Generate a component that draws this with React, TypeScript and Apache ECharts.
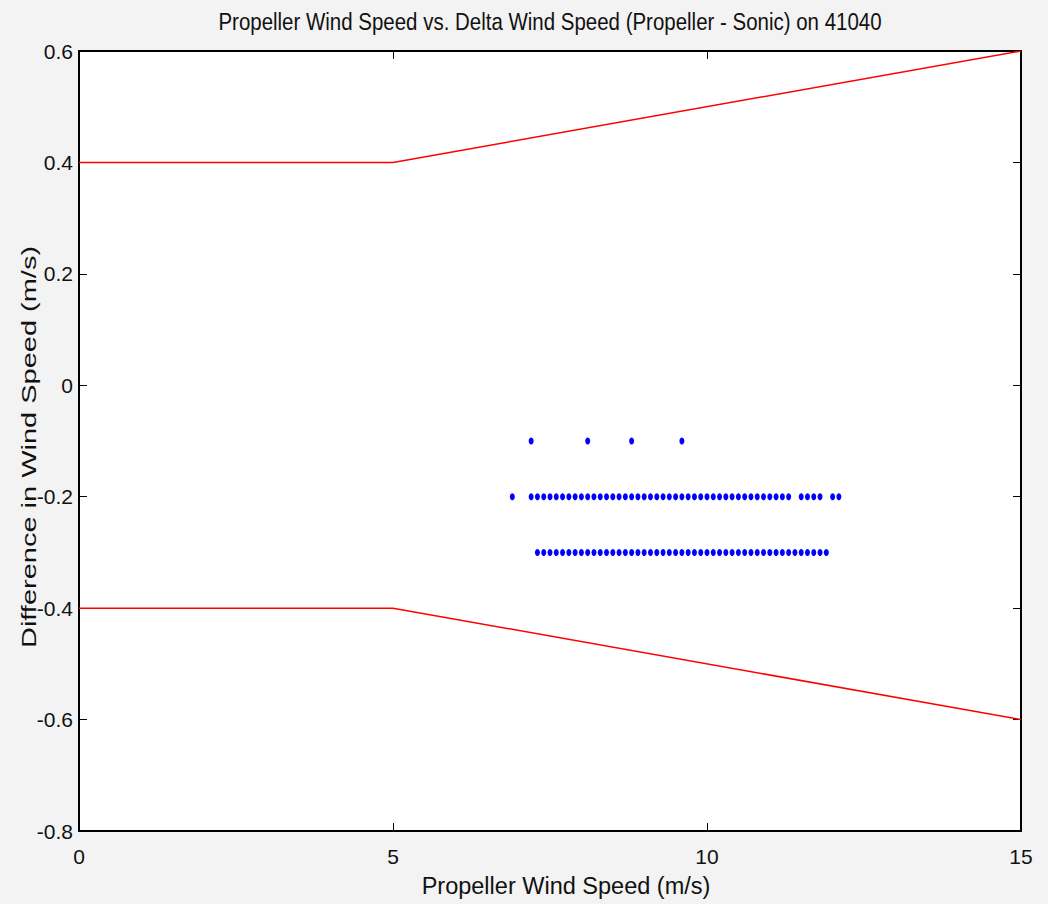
import React, { useEffect, useRef } from "react";
import * as echarts from "echarts";

const TITLE = "Propeller Wind Speed vs. Delta Wind Speed (Propeller - Sonic) on 41040";
const X_LABEL = "Propeller Wind Speed (m/s)";
const Y_LABEL = "Difference in Wind Speed (m/s)";

const upperLimit: [number, number][] = [
  [0, 0.4],
  [5, 0.4],
  [15, 0.6],
];
const lowerLimit: [number, number][] = [
  [0, -0.4],
  [5, -0.4],
  [15, -0.6],
];

const speedsDeltaM01 = [7.2, 8.1, 8.8, 9.6];
const speedsDeltaM02 = [
  6.9, 7.2, 7.3, 7.4, 7.5, 7.6, 7.7, 7.8, 7.9, 8.0, 8.1, 8.2, 8.3, 8.4, 8.5, 8.6,
  8.7, 8.8, 8.9, 9.0, 9.1, 9.2, 9.3, 9.4, 9.5, 9.6, 9.7, 9.8, 9.9, 10.0, 10.1,
  10.2, 10.3, 10.4, 10.5, 10.6, 10.7, 10.8, 10.9, 11.0, 11.1, 11.2, 11.3, 11.5,
  11.6, 11.7, 11.8, 12.0, 12.1,
];
const speedsDeltaM03 = [
  7.3, 7.4, 7.5, 7.6, 7.7, 7.8, 7.9, 8.0, 8.1, 8.2, 8.3, 8.4, 8.5, 8.6, 8.7, 8.8,
  8.9, 9.0, 9.1, 9.2, 9.3, 9.4, 9.5, 9.6, 9.7, 9.8, 9.9, 10.0, 10.1, 10.2, 10.3,
  10.4, 10.5, 10.6, 10.7, 10.8, 10.9, 11.0, 11.1, 11.2, 11.3, 11.4, 11.5, 11.6,
  11.7, 11.8, 11.9,
];
const deltaLevels = [-0.1, -0.2, -0.3];

const FONT = "'Liberation Sans', Arial, sans-serif";

export default function App() {
  const ref = useRef<HTMLDivElement>(null);
  useEffect(() => {
    document.body.style.margin = "0";
    if (!ref.current) return;
    const chart = echarts.init(ref.current, undefined, { renderer: "svg" });
    const rows = [speedsDeltaM01, speedsDeltaM02, speedsDeltaM03];
    const scatterData: [number, number][] = [];
    rows.forEach((r, i) => r.forEach((s) => scatterData.push([s, deltaLevels[i]])));

    const left = 79, top = 51, right = 1021, bottom = 831;
    const fmt = (v: number) => String(Number(v.toFixed(1)));
    const tickCommon = { show: true, inside: true, length: 8, lineStyle: { color: "#000", width: 1 } };
    const lineCommon = { show: true, onZero: false, lineStyle: { color: "#000", width: 2 } };

    chart.setOption({
      animation: false,
      backgroundColor: "#f3f3f3",
      grid: {
        left,
        top,
        width: right - left,
        height: bottom - top,
        show: true,
        backgroundColor: "#ffffff",
        borderWidth: 0,
      },
      graphic: [
        {
          type: "text",
          x: 550,
          y: 22,
          scaleX: 0.853,
          style: { text: TITLE, font: `24px ${FONT}`, fill: "#111", align: "center", verticalAlign: "middle" },
        },
        {
          type: "text",
          x: 566,
          y: 885,
          scaleX: 0.98,
          style: { text: X_LABEL, font: `24px ${FONT}`, fill: "#111", align: "center", verticalAlign: "middle" },
        },
        {
          type: "text",
          x: 29,
          y: 447,
          rotation: Math.PI / 2,
          scaleX: 1.45,
          style: { text: Y_LABEL, font: `20px ${FONT}`, fill: "#111", align: "center", verticalAlign: "middle" },
        },
      ],
      xAxis: [
        {
          type: "value",
          min: 0,
          max: 15,
          interval: 5,
          position: "bottom",
          axisLine: lineCommon,
          axisTick: tickCommon,
          splitLine: { show: false },
          axisLabel: { color: "#111", fontSize: 21, fontFamily: FONT, margin: 15, formatter: fmt },
        },
        {
          type: "value",
          min: 0,
          max: 15,
          interval: 5,
          position: "top",
          axisLine: lineCommon,
          axisTick: tickCommon,
          splitLine: { show: false },
          axisLabel: { show: false },
        },
      ],
      yAxis: [
        {
          type: "value",
          min: -0.8,
          max: 0.6,
          interval: 0.2,
          position: "left",
          axisLine: lineCommon,
          axisTick: tickCommon,
          splitLine: { show: false },
          axisLabel: { color: "#111", fontSize: 21, fontFamily: FONT, margin: 6, formatter: fmt },
        },
        {
          type: "value",
          min: -0.8,
          max: 0.6,
          interval: 0.2,
          position: "right",
          axisLine: lineCommon,
          axisTick: tickCommon,
          splitLine: { show: false },
          axisLabel: { show: false },
        },
      ],
      series: [
        {
          type: "line",
          data: upperLimit,
          symbol: "none",
          lineStyle: { color: "#ff0000", width: 1.5 },
          z: 3,
        },
        {
          type: "line",
          data: lowerLimit,
          symbol: "none",
          lineStyle: { color: "#ff0000", width: 1.5 },
          z: 3,
        },
        {
          type: "scatter",
          data: scatterData,
          symbol: "circle",
          symbolSize: [5, 7],
          itemStyle: { color: "#0000ff", opacity: 1 },
          z: 4,
        },
      ],
    });
    return () => chart.dispose();
  }, []);
  return <div ref={ref} style={{ width: 1048, height: 904 }} />;
}
